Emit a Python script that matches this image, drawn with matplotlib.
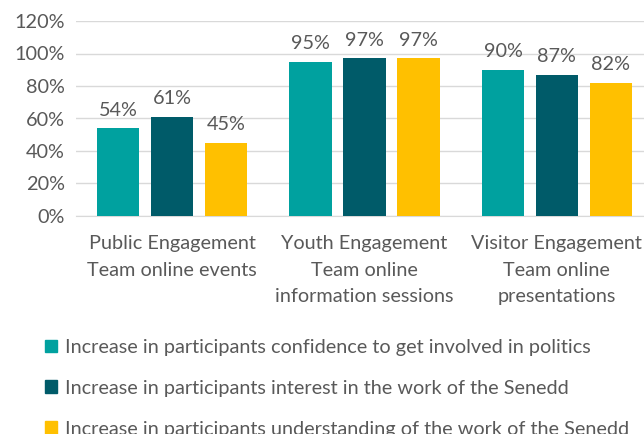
import matplotlib.pyplot as plt
import numpy as np
from matplotlib.patches import Patch

# данные
categories = ["Public Engagement\nTeam online events",
              "Youth Engagement\nTeam online\ninformation sessions",
              "Visitor Engagement\nTeam online\npresentations"]
series_names = ["Increase in participants confidence to get involved in politics",
                "Increase in participants interest in the work of the Senedd",
                "Increase in participants understanding of the work of the Senedd"]
confidence = [0.54, 0.95, 0.90]
interest = [0.61, 0.97, 0.87]
understanding = [0.45, 0.97, 0.82]
y_ticks = [0, 0.2, 0.4, 0.6, 0.8, 1.0, 1.2]

colors = ["#00A19F", "#005B69", "#FFC000"]
text_col = "#595959"

plt.rcParams['font.family'] = ['Lato', 'DejaVu Sans']
plt.rcParams['font.size'] = 14.3

fig = plt.figure(figsize=(6.44, 4.34), dpi=100)
ax = fig.add_axes([76 / 644, (434 - 216) / 434, (653 - 76) / 644, 195 / 434])

x = np.arange(len(categories))
step = 0.28
width = 0.22
for i, vals in enumerate([confidence, interest, understanding]):
    bars = ax.bar(x + (i - 1) * step, vals, width, color=colors[i], zorder=3)
    for b, v in zip(bars, vals):
        ax.annotate(f"{v*100:.0f}%", (b.get_x() + b.get_width() / 2, v),
                    xytext=(0, 7), textcoords="offset points",
                    ha="center", va="bottom", color=text_col)

ax.set_xlim(-0.5, 2.5)
ax.set_ylim(0, 1.2)
ax.set_yticks(y_ticks)
ax.set_yticklabels([f"{t*100:.0f}%" for t in y_ticks])
ax.set_xticks(x)
ax.set_xticklabels(categories, linespacing=1.68)
ax.tick_params(axis='both', length=0, colors=text_col)
ax.tick_params(axis='x', pad=14)
ax.tick_params(axis='y', pad=8)
ax.grid(axis='y', color="#d9d9d9", linewidth=1, zorder=0)
for s in ['top', 'right', 'left']:
    ax.spines[s].set_visible(False)
ax.spines['bottom'].set_color("#d9d9d9")

handles = [Patch(color=c) for c in colors]
leg = fig.legend(handles, series_names, loc='upper left',
                 bbox_to_anchor=(37 / 644, 1 - 331 / 434), frameon=False,
                 handlelength=0.6, handleheight=0.6, handletextpad=0.4,
                 labelspacing=1.2, borderaxespad=0)
for t in leg.get_texts():
    t.set_color(text_col)

fig.savefig("out.png", dpi=100)
